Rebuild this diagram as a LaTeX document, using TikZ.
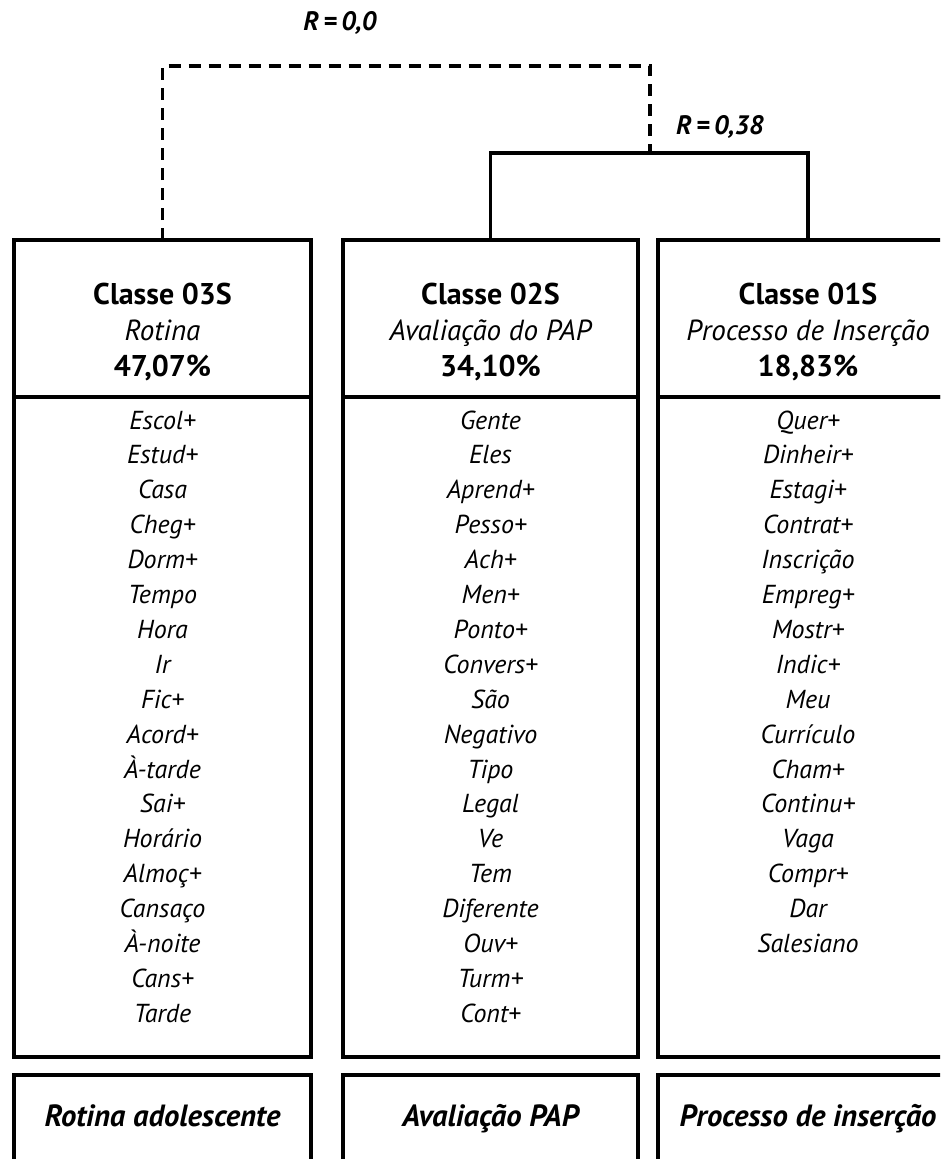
\documentclass[tikz,border=0pt]{standalone}
\usepackage{fontspec}
\setmainfont{PT Sans}
\begin{document}
\begin{tikzpicture}[x=0.75pt,y=-0.75pt,
  box/.style={draw=black,line width=2.5pt,inner sep=0pt,outer sep=0pt,anchor=north west},
  link/.style={draw=black,line width=2.5pt},
  dlink/.style={link,dash pattern=on 9pt off 6pt},
  txt/.style={inner sep=0pt,anchor=base},
  title/.style={txt,font=\fontsize{22.5}{27}\selectfont\bfseries},
  sub/.style={txt,font=\fontsize{21.8}{26}\selectfont\itshape},
  item/.style={txt,font=\fontsize{19.5}{23}\selectfont\itshape},
  tag/.style={txt,font=\fontsize{23}{28}\selectfont\bfseries\itshape},
  rlabel/.style={txt,font=\fontsize{20}{24}\selectfont\bfseries\itshape}]
\useasboundingbox (0,0) rectangle (940,1159);
\clip (0,0) rectangle (940,1159);

% header boxes
\node[box,minimum width=222.75pt,minimum height=117.75pt] (h3) at (14,240) {};
\node[box,minimum width=221.25pt,minimum height=117.75pt] (h2) at (343,240) {};
\node[box,minimum width=225pt,minimum height=117.75pt] (h1) at (658,240) {};
% word-list boxes
\node[box,minimum width=222.75pt,minimum height=495pt] (l3) at (14,397) {};
\node[box,minimum width=221.25pt,minimum height=495pt] (l2) at (343,397) {};
\node[box,minimum width=225pt,minimum height=495pt] (l1) at (658,397) {};
% label boxes
\node[box,minimum width=222.75pt,minimum height=90pt] (b3) at (14,1075) {};
\node[box,minimum width=221.25pt,minimum height=90pt] (b2) at (343,1075) {};
\node[box,minimum width=225pt,minimum height=90pt] (b1) at (658,1075) {};

% dendrogram
\coordinate (j12) at (650,153);
\coordinate (root) at (406,66);
\draw[link] (h2.north) |- (j12) -| (h1.north);
\draw[dlink] (h3.north) |- (root) -| (j12);
\node[rlabel] (r0) at (340,31) {R\,=\,0,0};
\node[rlabel] (r1) at (720,135) {R\,=\,0,38};

% class headers
\node[title] (t3) at (162.5,304) {Classe 03S};
\node[sub]   (s3) at (162.5,340) {Rotina};
\node[title] (p3) at (162.5,376) {47,07\%};
\node[title] (t2) at (490.5,304) {Classe 02S};
\node[sub]   (s2) at (490.5,340) {Avaliação do PAP};
\node[title] (p2) at (490.5,376) {34,10\%};
\node[title] (t1) at (808,304) {Classe 01S};
\node[sub]   (s1) at (808,340) {Processo de Inserção};
\node[title] (p1) at (808,376) {18,83\%};

% word lists
\foreach \w [count=\i] in {Escol+,Estud+,Casa,Cheg+,Dorm+,Tempo,Hora,Ir,Fic+,Acord+,À-tarde,Sai+,Horário,Almoç+,Cansaço,À-noite,Cans+,Tarde}
  \node[item] (w3-\i) at (162.5,{429+34.9*(\i-1)}) {\w};
\foreach \w [count=\i] in {Gente,Eles,Aprend+,Pesso+,Ach+,Men+,Ponto+,Convers+,São,Negativo,Tipo,Legal,Ve,Tem,Diferente,Ouv+,Turm+,Cont+}
  \node[item] (w2-\i) at (490.5,{429+34.9*(\i-1)}) {\w};
\foreach \w [count=\i] in {Quer+,Dinheir+,Estagi+,Contrat+,Inscrição,Empreg+,Mostr+,Indic+,Meu,Currículo,Cham+,Continu+,Vaga,Compr+,Dar,Salesiano}
  \node[item] (w1-\i) at (808,{429+34.9*(\i-1)}) {\w};

% category labels
\node[tag] (c3) at (162.5,1126) {Rotina adolescente};
\node[tag] (c2) at (490.5,1126) {Avaliação PAP};
\node[tag] (c1) at (808,1126) {Processo de inserção};
\end{tikzpicture}
\end{document}
